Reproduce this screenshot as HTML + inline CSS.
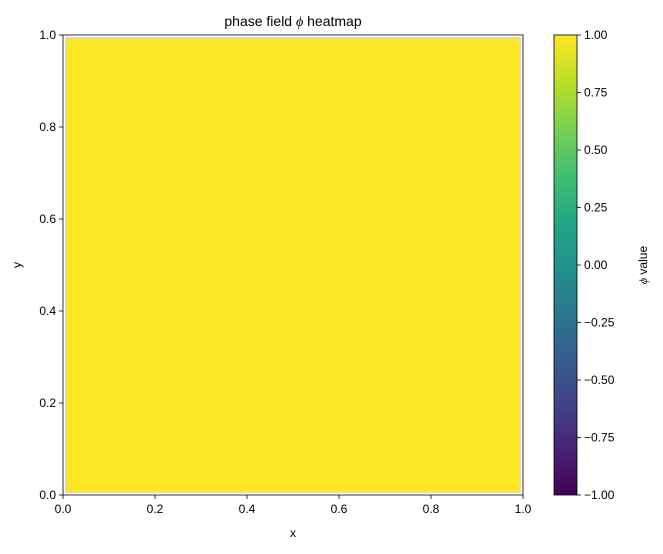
<!DOCTYPE html>
<html><head><meta charset="utf-8"><style>
body{margin:0;background:#fff;width:663px;height:549px;overflow:hidden;font-family:"Liberation Sans","DejaVu Sans",sans-serif}
</style></head><body>
<svg width="663" height="549" xmlns="http://www.w3.org/2000/svg" font-family="Liberation Sans, DejaVu Sans, sans-serif" font-size="12">
<defs>
<linearGradient id="vir" x1="0" y1="1" x2="0" y2="0">
<stop offset="0" stop-color="#440154"/><stop offset="0.1" stop-color="#482475"/><stop offset="0.2" stop-color="#414487"/><stop offset="0.3" stop-color="#355f8d"/><stop offset="0.4" stop-color="#2a788e"/><stop offset="0.5" stop-color="#21918c"/><stop offset="0.6" stop-color="#22a884"/><stop offset="0.7" stop-color="#44bf70"/><stop offset="0.8" stop-color="#7ad151"/><stop offset="0.9" stop-color="#bddf26"/><stop offset="1" stop-color="#fde725"/>
</linearGradient>
</defs>
<text x="293" y="26" text-anchor="middle" font-size="14">phase field <tspan font-style="italic" font-family="Liberation Serif, DejaVu Serif, serif">ϕ</tspan> heatmap</text>
<g id="plot"></g>
<rect x="554" y="35" width="23" height="460" fill="url(#vir)"/>
<rect x="554" y="35" width="23" height="460" fill="none" stroke="#000" stroke-width="0.8"/>
<g id="cbticks"></g>
<text transform="translate(647,265) rotate(-90)" text-anchor="middle"><tspan font-style="italic" font-family="Liberation Serif, DejaVu Serif, serif">ϕ</tspan> value</text>
<text x="293" y="537" text-anchor="middle">x</text>
<text transform="translate(21,265) rotate(-90)" text-anchor="middle">y</text>
</svg>
<script>
const xTicks=[0,0.2,0.4,0.6,0.8,1.0];
const yTicks=[0,0.2,0.4,0.6,0.8,1.0];
const cbTicks=[-1,-0.75,-0.5,-0.25,0,0.25,0.5,0.75,1];
const cellX0=[0.006];const cellX1=[0.994];const cellY0=[0.006];const cellY1=[0.994];
const cellVal=[1.0];
const L=63,T=35,W=460,H=460;
const sx=v=>L+v*W, sy=v=>T+H-v*H, sc=v=>T+H-(v+1)/2*H;
const ns='http://www.w3.org/2000/svg';
const plot=document.getElementById('plot');
function mk(t,a,p){const e=document.createElementNS(ns,t);for(const k in a)e.setAttribute(k,a[k]);(p||plot).appendChild(e);return e;}
function vir(v){const s=['#440154','#482475','#414487','#355f8d','#2a788e','#21918c','#22a884','#44bf70','#7ad151','#bddf26','#fde725'];return s[Math.round((v+1)/2*10)];}
cellVal.forEach((v,i)=>{const r=mk('rect',{x:sx(cellX0[i]),y:sy(cellY1[i]),width:sx(cellX1[i])-sx(cellX0[i]),height:sy(cellY0[i])-sy(cellY1[i]),fill:vir(v),stroke:'#ccc',"stroke-width":1});

});
const fr=mk('rect',{x:L,y:T,width:W,height:H,fill:'none',stroke:'#000','stroke-width':0.8});


xTicks.forEach(v=>{mk('line',{x1:sx(v),x2:sx(v),y1:T+H,y2:T+H+4,stroke:'#000','stroke-width':0.8});
const t=mk('text',{x:sx(v),y:T+H+18,'text-anchor':'middle'});t.textContent=v.toFixed(1);

});
yTicks.forEach(v=>{mk('line',{x1:L-4,x2:L,y1:sy(v),y2:sy(v),stroke:'#000','stroke-width':0.8});
const t=mk('text',{x:L-7,y:sy(v)+4,'text-anchor':'end'});t.textContent=v.toFixed(1);

});
const cb=document.getElementById('cbticks');
cbTicks.forEach(v=>{mk('line',{x1:577,x2:581,y1:sc(v),y2:sc(v),stroke:'#000','stroke-width':0.8},cb);
const t=mk('text',{x:584,y:sc(v)+4},cb);t.textContent=(v<0?'\u22120':'0').replace(/^/,'')&&((v<0?'\u2212':'')+Math.abs(v).toFixed(2));

});
</script>
</body></html>
